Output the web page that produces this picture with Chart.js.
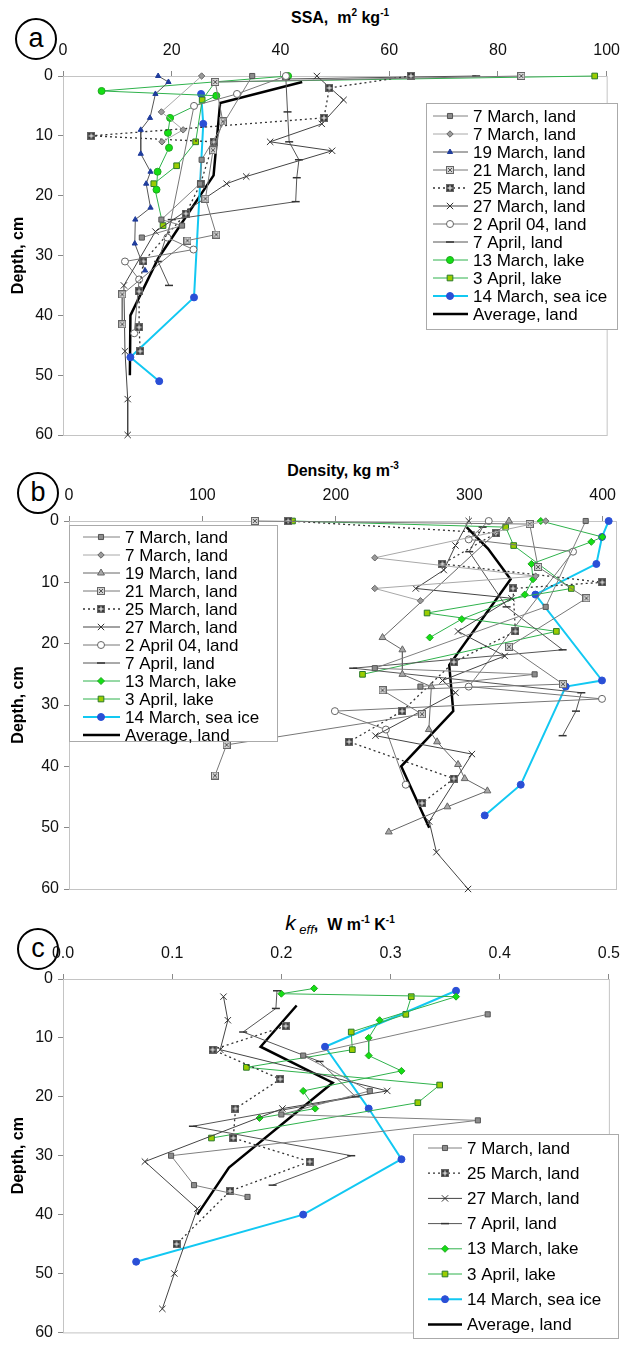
<!DOCTYPE html>
<html>
<head>
<meta charset="utf-8">
<script src="https://cdn.jsdelivr.net/npm/chart.js@4.4.1/dist/chart.umd.min.js"></script>
<style>
body{margin:0;background:#fff;width:631px;height:1347px;position:relative;overflow:hidden;font-family:"Liberation Sans",Arial,sans-serif;color:#000}
canvas{position:absolute;left:0}
.ttl{position:absolute;font-weight:bold;font-size:16px;white-space:nowrap;transform:translateX(-50%)}
.ttl sup{font-size:10px;vertical-align:7px;line-height:0}
.circ{position:absolute;width:38px;height:38px;border:2px solid #000;border-radius:50%;text-align:center;font-size:27px;line-height:36px}
</style>
</head>
<body>
<div class="circ" style="left:15px;top:18px">a</div>
<div class="ttl" style="left:340px;top:9px">SSA,&nbsp; m<sup>2</sup> kg<sup>-1</sup></div>
<canvas id="ssa" width="631" height="450" style="top:0"></canvas>

<div class="circ" style="left:17px;top:472px">b</div>
<div class="ttl" style="left:343px;top:462px">Density, kg m<sup>-3</sup></div>
<canvas id="dens" width="631" height="460" style="top:450px"></canvas>

<div class="circ" style="left:17px;top:928px">c</div>
<div class="ttl" style="left:340px;top:911px"><span style="font-style:italic;font-weight:normal;font-size:21px">k</span><sub style="font-style:italic;font-weight:normal;font-size:13px"> eff</sub>,&nbsp; W m<sup>-1</sup> K<sup>-1</sup></div>
<canvas id="keff" width="631" height="437" style="top:910px"></canvas>

<script>
// [value, depth cm]
// --- a: SSA
var ssa_mar7 = [[34.8,0],[25.5,14],[25.2,18],[18.1,24],[21.9,25],[14.5,27]];
var ssa_mar7b = [[25.5,0],[18.1,6],[22.1,9],[18.2,11]];
var ssa_mar19 = [[17.5,0],[19.4,1],[17,3],[16,7],[14.3,9],[14.3,13],[16.1,16],[15.3,18],[16.1,22],[13.3,24],[13.2,28],[15.1,32.5]];
var ssa_mar21 = [[84.3,0],[28,1],[29.4,7.6],[27.6,12.4],[26.2,20.5],[28.2,26.5],[22.9,27.5],[10.9,36.5],[10.9,41.5]];
var ssa_mar25 = [[64,0],[49,2],[48,7],[5.2,10],[27.7,11],[25.3,18],[22.6,23],[14.8,31],[14,36],[14,42],[14.2,46]];
var ssa_mar27 = [[46.7,0],[51.6,4],[47.6,8],[38.1,11],[49.5,12.5],[33.7,16.8],[30.1,18],[17,26],[11.2,35],[11.4,46],[11.9,54],[11.9,60]];
var ssa_apr2 = [[41,0],[32,3],[24.1,5],[19.2,27],[24,29],[11.4,31],[14,34],[13.1,43]];
var ssa_apr7 = [[76,0],[41,0.5],[41.3,6],[41.6,11],[43.4,14],[43,17],[42.8,21],[20,24],[17.5,31],[19.5,35]];
var ssa_lake_mar13 = [[41.4,0],[7.1,2.5],[28.2,3.3],[19.7,7],[19.3,9.5],[19.5,12],[17.4,16],[17.2,19]];
var ssa_lake_apr3 = [[97.8,0],[28,1],[25.6,4],[24.4,11],[20.9,15],[16.7,18],[18.4,25]];
var ssa_seaice = [[25.4,3],[25.8,8],[24.1,37],[12.4,47],[17.7,51]];
var ssa_avg = [[44,1],[28.9,4.5],[27.7,16.6],[17.5,30.5],[12.4,40],[12.3,50]];

// --- b: density
var den_mar7 = [[387.3,0],[357.3,14],[229.2,24],[349,25],[263.4,27]];
var den_mar7b = [[357.3,0],[229.2,6],[349.8,9],[229.2,11],[263.4,13]];
var den_mar19 = [[329.8,0],[235,19],[249.9,21],[249.9,25],[271.6,27],[269.7,34],[275.9,36],[291.6,39.7],[296.6,42],[313.6,44],[283.6,46.6],[239.7,50.7]];
var den_mar21 = [[139.3,0],[345.3,0.5],[351.6,7.5],[387.8,12.6],[329.8,20.5],[370.3,26.6],[235,27.6],[264.6,31.5],[118.1,36.5],[109.4,41.5]];
var den_mar25 = [[164.3,0],[319.9,2],[279.9,7],[399.7,10],[332.8,11],[334.6,18],[288.4,23],[249.7,31],[210,36],[288.4,42],[264.6,46]];
var den_mar27 = [[299.6,0],[289.7,4],[280.9,8],[259.9,11],[331.6,12.6],[291.6,18],[326.6,22],[280,26],[289.7,28],[229.7,35],[302,38],[270,49],[275.4,54],[299.1,60]];
var den_apr2 = [[314.6,0],[299.6,3],[377.8,5],[299.6,27],[399.5,29],[199.3,31],[237.5,34],[252.4,43]];
var den_apr7 = [[310,1],[300,5],[328,14],[370,21],[213,24],[384,28],[380,31],[370,35]];
var den_lake_mar13 = [[353.6,0],[399.7,2.6],[391.5,3.4],[346.6,7],[347.8,9.5],[341.6,12],[294.4,16],[270.4,19]];
var den_lake_apr3 = [[167.5,0],[327.3,1],[333.3,4],[376.5,11],[268.4,15],[365.3,18],[220,25]];
var den_seaice = [[404.5,0],[399.5,2.6],[395.3,7],[349.6,12],[399.5,26],[372.3,27],[338.6,43],[311.6,48]];
var den_avg = [[298,1],[314,4.5],[331,9.5],[285,23.5],[288,31],[249,40],[270,50]];

// --- c: k_eff
var k_mar7 = [[0.389,6],[0.22,13],[0.281,19],[0.2,23],[0.38,24],[0.099,30],[0.12,35],[0.169,37]];
var k_mar25 = [[0.204,8],[0.137,12],[0.199,17],[0.158,22],[0.156,27],[0.226,31],[0.153,36],[0.104,45]];
var k_mar27 = [[0.147,3],[0.151,7],[0.144,12],[0.297,19],[0.201,22],[0.075,31],[0.123,39],[0.102,50],[0.091,56]];
var k_apr7 = [[0.196,2],[0.195,5],[0.165,9],[0.235,14],[0.268,20],[0.119,25],[0.264,30],[0.192,35]];
var k_lake_mar13 = [[0.23,1.6],[0.2,2.5],[0.36,3],[0.29,7],[0.28,10],[0.28,13],[0.31,15.6],[0.22,19],[0.231,22],[0.18,23.6]];
var k_lake_apr3 = [[0.319,3],[0.314,6],[0.264,9],[0.265,12],[0.168,15],[0.345,18],[0.325,21],[0.136,27]];
var k_seaice = [[0.36,2],[0.24,11.5],[0.28,22],[0.31,30.6],[0.22,40],[0.067,48]];
var k_avg = [[0.214,4.5],[0.181,11.5],[0.247,17.6],[0.152,32],[0.123,40]];

// tick labels
var depthTicks = [0, 10, 20, 30, 40, 50, 60];
var ssaTicks = [0, 20, 40, 60, 80, 100];
var densTicks = [0, 100, 200, 300, 400];
var keffTicks = [0, 0.1, 0.2, 0.3, 0.4, 0.5];

function boxMark(fill, mark, kind) {
    var c = document.createElement('canvas');
    c.width = 8; c.height = 8;
    var g = c.getContext('2d');
    g.fillStyle = fill;
    g.fillRect(0, 0, 8, 8);
    g.strokeStyle = '#666';
    g.strokeRect(0.5, 0.5, 7, 7);
    g.strokeStyle = mark;
    g.lineWidth = 1;
    g.beginPath();
    if (kind == 'x') {
        g.moveTo(2, 2); g.lineTo(6, 6); g.moveTo(6, 2); g.lineTo(2, 6);
    } else {
        g.moveTo(4, 1.5); g.lineTo(4, 6.5); g.moveTo(1.5, 4); g.lineTo(6.5, 4);
    }
    g.stroke();
    return c;
}
var markX = boxMark('#d2d2d2', '#555', 'x');
var markPlus = boxMark('#3c3c3c', '#fff', 'plus');

var GREEN = '#2fb24c';
var st = {
    mar7: {borderColor:'#808080', pointStyle:'rect', pointBackgroundColor:'#8c8c8c', pointBorderColor:'#555', pointRadius:3.6},
    mar7b: {borderColor:'#a8a8a8', pointStyle:'rectRot', pointBackgroundColor:'#9a9a9a', pointBorderColor:'#666', pointRadius:3.2},
    mar19a: {borderColor:'#555', pointStyle:'triangle', pointBackgroundColor:'#1f3c9c', pointBorderColor:'#1f3c9c', pointRadius:3},
    mar19b: {borderColor:'#666', pointStyle:'triangle', pointBackgroundColor:'#a8a8a8', pointBorderColor:'#666', pointRadius:4},
    mar21: {borderColor:'#777', pointStyle:markX},
    mar25: {borderColor:'#333', borderDash:[2,3], borderWidth:1.3, pointStyle:markPlus},
    mar27: {borderColor:'#444', pointStyle:'crossRot', pointBorderColor:'#333', pointRadius:4.5},
    apr2: {borderColor:'#777', pointStyle:'circle', pointBackgroundColor:'#fff', pointBorderColor:'#666', pointRadius:3.5},
    apr7: {borderColor:'#555', pointStyle:'line', pointBorderColor:'#333', pointRadius:4, pointBorderWidth:1.5},
    lake13a: {borderColor:GREEN, pointStyle:'circle', pointBackgroundColor:'#14e014', pointBorderColor:'#22a522', pointRadius:3.5},
    lake13: {borderColor:GREEN, pointStyle:'rectRot', pointBackgroundColor:'#14e014', pointBorderColor:'#22a522', pointRadius:3.5},
    lake3: {borderColor:GREEN, pointStyle:'rect', pointBackgroundColor:'#9acd00', pointBorderColor:'#2a7a2a', pointRadius:4},
    ice: {borderColor:'#12c8f2', borderWidth:2, pointStyle:'circle', pointBackgroundColor:'#2a4fd6', pointBorderColor:'#2a4fd6', pointRadius:3.5},
    avg: {borderColor:'#000', borderWidth:2.5, pointRadius:0}
};

function ds(label, arr, s) {
    return Object.assign({
        label: label,
        data: arr.map(function(p) { return {x: p[0], y: p[1]}; }),
        showLine: true, fill: false, tension: 0, clip: false,
        borderWidth: 1, pointRadius: 4, pointBorderWidth: 1
    }, s);
}

// plot frame on right / bottom
var frame = {
    id: 'frame',
    beforeDatasetsDraw: function(chart) {
        var a = chart.chartArea, ctx = chart.ctx;
        ctx.save();
        ctx.strokeStyle = '#c4c4c4';
        ctx.lineWidth = 1;
        ctx.strokeRect(a.left + 0.5, a.top + 0.5, a.right - a.left, a.bottom - a.top);
        ctx.restore();
    }
};

// boxed legend drawn at a fixed spot
var boxLegend = {
    id: 'boxLegend',
    afterDatasetsDraw: function(chart, args, o) {
        var ctx = chart.ctx;
        ctx.save();
        ctx.fillStyle = '#fff';
        ctx.fillRect(o.left, o.top, o.width, o.height);
        ctx.strokeStyle = '#aaa';
        ctx.lineWidth = 1;
        ctx.strokeRect(o.left + 0.5, o.top + 0.5, o.width, o.height);
        ctx.font = '17px "Liberation Sans", Arial, sans-serif';
        ctx.textBaseline = 'middle';
        chart.data.datasets.forEach(function(d, i) {
            var y = o.top + o.first + i * o.step;
            ctx.save();
            ctx.strokeStyle = d.borderColor;
            ctx.lineWidth = d.borderWidth;
            ctx.setLineDash(d.borderDash || []);
            ctx.beginPath();
            ctx.moveTo(o.lx1, y);
            ctx.lineTo(o.lx2, y);
            ctx.stroke();
            ctx.restore();
            if (d.pointRadius > 0) {
                ctx.save();
                ctx.fillStyle = d.pointBackgroundColor || '#000';
                ctx.strokeStyle = d.pointBorderColor || d.borderColor;
                ctx.lineWidth = d.pointBorderWidth;
                Chart.helpers.drawPoint(ctx, {pointStyle: d.pointStyle, radius: d.pointRadius, borderWidth: d.pointBorderWidth, rotation: 0}, o.mx, y);
                ctx.restore();
            }
            ctx.fillStyle = '#000';
            ctx.fillText(d.label, o.tx, y + 1);
        });
        ctx.restore();
    }
};

function fixTicks(list) {
    return function(s) { s.ticks = list.map(function(v) { return {value: v}; }); };
}

function makeChart(id, datasets, xo, pad, xH, yW, leg) {
    var tickFont = {family: '"Liberation Sans", Arial, sans-serif', size: 16};
    return new Chart(document.getElementById(id), {
        type: 'scatter',
        data: {datasets: datasets},
        plugins: [frame, boxLegend],
        options: {
            responsive: false,
            animation: false,
            devicePixelRatio: 1,
            layout: {padding: pad},
            plugins: {legend: {display: false}, tooltip: {enabled: false}, boxLegend: leg},
            scales: {
                x: {
                    type: 'linear', position: 'top', min: 0, max: xo.max,
                    afterBuildTicks: fixTicks(xo.ticks),
                    ticks: {color: '#111', font: tickFont, padding: 11, maxRotation: 0,
                        callback: xo.fmt || function(v) { return v; }},
                    grid: {drawOnChartArea: false, tickLength: 5, color: '#888'},
                    border: {color: '#888'},
                    afterFit: function(s) { s.height = xH; }
                },
                y: {
                    type: 'linear', reverse: true, min: 0, max: 60,
                    afterBuildTicks: fixTicks(depthTicks),
                    ticks: {color: '#111', font: tickFont, padding: 5},
                    grid: {drawOnChartArea: false, tickLength: 5, color: '#888'},
                    border: {color: '#888'},
                    title: {display: true, text: 'Depth, cm', color: '#000', padding: {top: 9, bottom: 4},
                        font: {family: '"Liberation Sans", Arial, sans-serif', size: 16, weight: 'bold'}},
                    afterFit: function(s) { s.width = yW; }
                }
            }
        }
    });
}

makeChart('ssa', [
    ds('7 March, land', ssa_mar7, st.mar7),
    ds('7 March, land', ssa_mar7b, st.mar7b),
    ds('19 March, land', ssa_mar19, st.mar19a),
    ds('21 March, land', ssa_mar21, st.mar21),
    ds('25 March, land', ssa_mar25, st.mar25),
    ds('27 March, land', ssa_mar27, st.mar27),
    ds('2 April 04, land', ssa_apr2, st.apr2),
    ds('7 April, land', ssa_apr7, st.apr7),
    ds('13 March, lake', ssa_lake_mar13, st.lake13a),
    ds('3 April, lake', ssa_lake_apr3, st.lake3),
    ds('14 March, sea ice', ssa_seaice, st.ice),
    ds('Average, land', ssa_avg, st.avg)
], {max: 100, ticks: ssaTicks}, {left: 0, top: 0, right: 14, bottom: 15}, 76, 63,
   {left: 426, top: 103, width: 191, height: 226, first: 13, step: 18, lx1: 433, lx2: 468, mx: 450, tx: 473});

makeChart('dens', [
    ds('7 March, land', den_mar7, st.mar7),
    ds('7 March, land', den_mar7b, st.mar7b),
    ds('19 March, land', den_mar19, st.mar19b),
    ds('21 March, land', den_mar21, st.mar21),
    ds('25 March, land', den_mar25, st.mar25),
    ds('27 March, land', den_mar27, st.mar27),
    ds('2 April 04, land', den_apr2, st.apr2),
    ds('7 April, land', den_apr7, st.apr7),
    ds('13 March, lake', den_lake_mar13, st.lake13),
    ds('3 April, lake', den_lake_apr3, st.lake3),
    ds('14 March, sea ice', den_seaice, st.ice),
    ds('Average, land', den_avg, st.avg)
], {max: 410, ticks: densTicks}, {left: 0, top: 0, right: 15, bottom: 21}, 71, 69,
   {left: 69, top: 75, width: 208, height: 216, first: 12, step: 18, lx1: 83, lx2: 120, mx: 101, tx: 125});

makeChart('keff', [
    ds('7 March, land', k_mar7, st.mar7),
    ds('25 March, land', k_mar25, st.mar25),
    ds('27 March, land', k_mar27, st.mar27),
    ds('7 April, land', k_apr7, st.apr7),
    ds('13 March, lake', k_lake_mar13, st.lake13),
    ds('3 April, lake', k_lake_apr3, st.lake3),
    ds('14 March, sea ice', k_seaice, st.ice),
    ds('Average, land', k_avg, st.avg)
], {max: 0.5, ticks: keffTicks, fmt: function(v) { return v.toFixed(1); }}, {left: 0, top: 0, right: 13, bottom: 9}, 69, 63,
   {left: 413, top: 224, width: 205, height: 204, first: 14, step: 25.2, lx1: 428, lx2: 462, mx: 445, tx: 467});
</script>
</body>
</html>
